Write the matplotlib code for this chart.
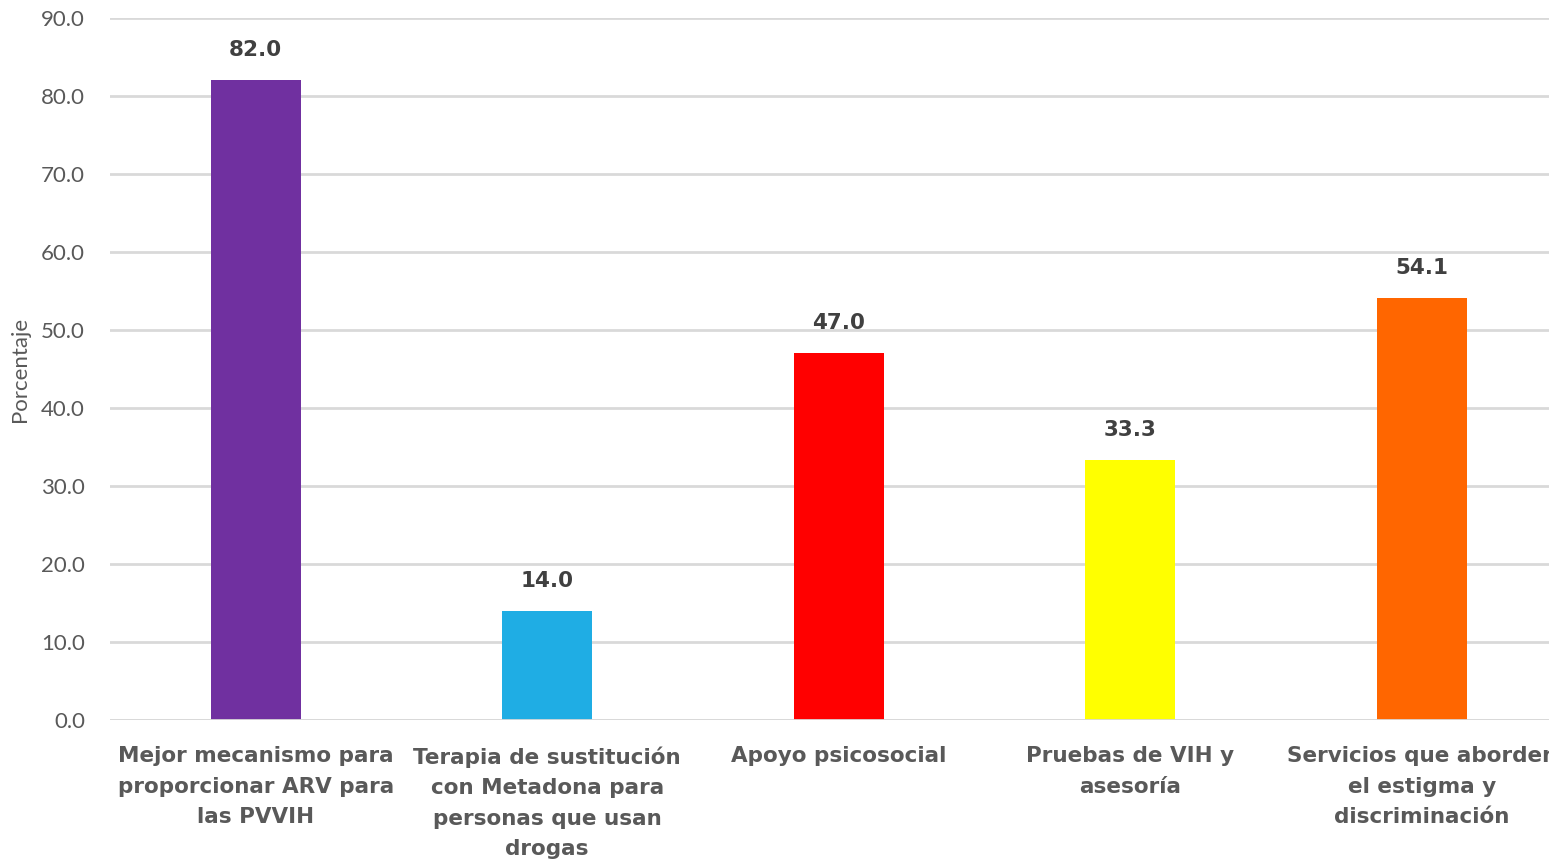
import matplotlib
matplotlib.use("Agg")
import matplotlib.pyplot as plt

categorias = ["Mejor mecanismo para\nproporcionar ARV para\nlas PVVIH",
              "Terapia de sustitución\ncon Metadona para\npersonas que usan\ndrogas",
              "Apoyo psicosocial",
              "Pruebas de VIH y\nasesoría",
              "Servicios que aborden\nel estigma y\ndiscriminación"]
valores = [82.0, 14.0, 47.0, 33.3, 54.1]
colores = ["#7030a0", "#1fade4", "#ff0000", "#ffff00", "#ff6600"]

plt.rcParams['font.family'] = ['Lato', 'DejaVu Sans']

fig = plt.figure(figsize=(15.49, 8.64), dpi=100)
ax = fig.add_axes([110/1549, 144/864, 1457.5/1549, 702/864])

x = range(len(valores))
ax.bar(x, valores, width=0.31, color=colores, zorder=2)
for i, v in zip(x, valores):
    ax.text(i, v + 2.6, f"{v:.1f}", ha='center', va='bottom', fontsize=15.5,
            fontweight='bold', color='#404040', family='DejaVu Sans')

ax.set_xlim(-0.5, len(valores) - 0.5)
ax.set_ylim(0, 90)
ax.set_yticks(range(0, 91, 10))
ax.set_yticklabels([f"{t:.1f}" for t in range(0, 91, 10)], fontsize=16, color='#595959')
ax.set_xticks(list(x))
ax.set_xticklabels(categorias, fontsize=15.5, fontweight='bold', color='#595959',
                   linespacing=1.65, family='DejaVu Sans')
ax.tick_params(axis='both', length=0)
ax.tick_params(axis='x', pad=19)
ax.tick_params(axis='y', pad=18)
ax.grid(axis='y', color='#d9d9d9', linewidth=2, zorder=0)
ax.axhline(0, color='#d9d9d9', linewidth=2, zorder=3)
for s in ax.spines.values():
    s.set_visible(False)
ax.set_ylabel("Porcentaje", fontsize=16, color='#595959')
ax.yaxis.set_label_coords(-0.055, 0.5)

fig.savefig("out.png", dpi=100)
